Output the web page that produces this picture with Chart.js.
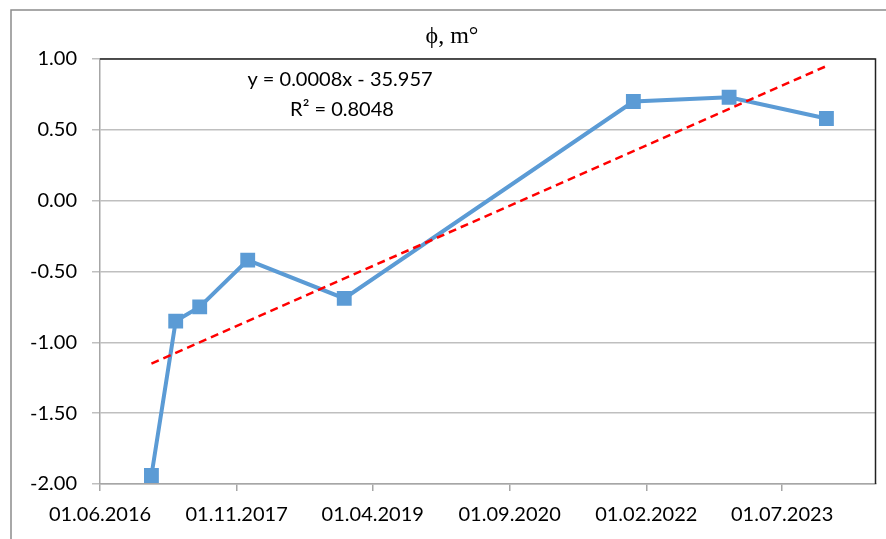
<!DOCTYPE html>
<html>
<head>
<meta charset="utf-8">
<script src="https://cdn.jsdelivr.net/npm/chart.js@4.4.1/dist/chart.umd.min.js"></script>
<style>
  html, body { margin: 0; padding: 0; background: #fff; }
  #wrap { position: relative; width: 886px; height: 539px; }
</style>
</head>
<body>
<div id="wrap"><canvas id="phiChart"></canvas></div>
<script>
// measurement dates and phi values (m°)
const dates = ['13.12.2016', '15.03.2017', '14.06.2017', '13.12.2017', '14.12.2018', '14.12.2021', '12.12.2022', '16.12.2023'];
const phiValues = [-1.94, -0.85, -0.75, -0.42, -0.69, 0.70, 0.73, 0.58];

// linear trend, read at first and last date
const trendDates = ['13.12.2016', '16.12.2023'];
const trendValues = [-1.15, 0.95];

const xTickLabels = ['01.06.2016', '01.11.2017', '01.04.2019', '01.09.2020', '01.02.2022', '01.07.2023'];
const yTickLabels = ['1.00', '0.50', '0.00', '-0.50', '-1.00', '-1.50', '-2.00'];

const titleText = 'ϕ, m°';
const eqLines = ['y = 0.0008x - 35.957', 'R² = 0.8048'];

// dd.mm.yyyy -> day number
function toDay(s) {
    const p = s.split('.');
    return Date.UTC(+p[2], +p[1] - 1, +p[0]) / 86400000;
}
function fmtDay(v) {
    const d = new Date(Math.round(v) * 86400000);
    const dd = String(d.getUTCDate()).padStart(2, '0');
    const mm = String(d.getUTCMonth() + 1).padStart(2, '0');
    return dd + '.' + mm + '.' + d.getUTCFullYear();
}

const font = 'Lato, "Liberation Sans", Arial, sans-serif';
const gray = '#a6a6a6';

const decor = {
    id: 'decor',
    beforeDraw(chart) {
        const ctx = chart.ctx;
        ctx.save();
        ctx.fillStyle = '#fff';
        ctx.fillRect(0, 0, chart.width, chart.height);
        // outer chart frame (cut off at right and bottom)
        ctx.strokeStyle = '#8c8c8c';
        ctx.lineWidth = 1.5;
        ctx.strokeRect(11, 10, 1000, 1000);
        ctx.restore();
    },
    afterDraw(chart) {
        const ctx = chart.ctx;
        const a = chart.chartArea;
        ctx.save();
        // plot area frame top and right
        ctx.strokeStyle = '#222';
        ctx.lineWidth = 1.5;
        ctx.beginPath();
        ctx.moveTo(a.left, a.top);
        ctx.lineTo(a.right, a.top);
        ctx.lineTo(a.right, a.bottom);
        ctx.stroke();
        // title
        ctx.fillStyle = '#000';
        ctx.font = '24px "Liberation Serif", "Times New Roman", serif';
        ctx.textAlign = 'center';
        ctx.textBaseline = 'alphabetic';
        ctx.fillText(titleText, 452, 43);
        // trend equation
        ctx.font = '20px ' + font;
        ctx.textBaseline = 'middle';
        ctx.fillText(eqLines[0], 340, 80);
        ctx.fillText(eqLines[1], 342, 110);
        ctx.restore();
    }
};

new Chart(document.getElementById('phiChart'), {
    type: 'line',
    data: {
        datasets: [{
            label: 'trend',
            data: trendDates.map((d, i) => ({ x: toDay(d), y: trendValues[i] })),
            borderColor: '#ff0000',
            borderWidth: 2.5,
            borderDash: [8, 5],
            pointRadius: 0,
            fill: false,
            order: 0
        }, {
            label: 'phi',
            data: dates.map((d, i) => ({ x: toDay(d), y: phiValues[i] })),
            borderColor: '#5b9bd5',
            backgroundColor: '#5b9bd5',
            borderWidth: 4,
            pointStyle: 'rect',
            pointRadius: 10.5,
            pointBorderWidth: 0,
            pointBackgroundColor: '#5b9bd5',
            tension: 0,
            fill: false,
            order: 1
        }]
    },
    options: {
        responsive: true,
        maintainAspectRatio: false,
        animation: false,
        events: [],
        layout: { padding: { top: 59, right: 5, left: 0, bottom: 0 } },
        plugins: {
            legend: { display: false },
            title: { display: false },
            tooltip: { enabled: false }
        },
        scales: {
            x: {
                type: 'linear',
                min: toDay(xTickLabels[0]),
                max: toDay('19.06.2024'),
                afterBuildTicks(scale) {
                    scale.ticks = xTickLabels.map(t => ({ value: toDay(t) }));
                },
                afterFit(scale) { scale.height = 55; },
                border: { display: true, color: gray, width: 1.5 },
                grid: { drawOnChartArea: false, drawTicks: true, tickLength: 7, color: gray, lineWidth: 1.5 },
                ticks: {
                    autoSkip: false,
                    maxRotation: 0,
                    padding: 12,
                    color: '#000',
                    font: { family: font, size: 20 },
                    callback: v => fmtDay(v)
                }
            },
            y: {
                min: -2,
                max: 1,
                afterBuildTicks(scale) {
                    scale.ticks = yTickLabels.map(t => ({ value: parseFloat(t) }));
                },
                afterFit(scale) { scale.width = 100; },
                border: { display: true, color: gray, width: 1.5 },
                grid: { color: '#bfbfbf', lineWidth: 1.5, drawTicks: true, tickLength: 8 },
                ticks: {
                    padding: 15,
                    color: '#000',
                    font: { family: font, size: 20 },
                    callback: v => v.toFixed(2)
                }
            }
        }
    },
    plugins: [decor]
});
</script>
</body>
</html>
